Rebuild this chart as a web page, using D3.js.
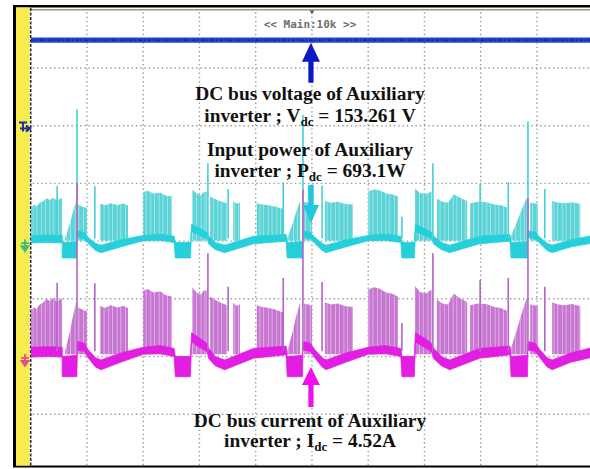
<!DOCTYPE html>
<html>
<head>
<meta charset="utf-8">
<script src="https://cdn.jsdelivr.net/npm/d3@7"></script>
<style>
  html, body { margin: 0; padding: 0; background: #fff; }
  svg { display: block; }
</style>
</head>
<body>
<svg id="scope" width="590" height="469"></svg>
<script>
// ---- Measured quantities ----
const vdc = 153.261;     // DC bus voltage (V)
const pdcMean = 693.1;   // input power readout (W)
const idcMean = 4.52;    // DC bus current readout (A)
const vdcRipple = 4.5;   // half-width of the voltage trace (V)

// Channel settings: units per division and ground-marker position (divisions from centre)
const chVolt = { perDiv: 100, offsetDiv: 1.95 };
const chPower = { perDiv: 2000, offsetDiv: -0.07 };
const chCurrent = { perDiv: 10, offsetDiv: -2.06 };

// Graticule
const timeDivs = [1, 2, 3, 4, 5, 6, 7, 8, 9];
const levelDivs = [3, 2, 1, 0, -1, -2, -3];

// DC bus current ripple band: [time (div), low (A), high (A)]
const currentBand = [
  [0.00, 0.5, 2.2], [0.30, 0.6, 2.3], [0.56, 0.5, 2.2],
  [0.56, -2.9, 0.6], [0.82, -2.9, 0.8],
  [0.83, 1.7, 3.2], [0.95, 1.5, 2.9], [1.02, 0.4, 1.8], [1.15, -1.2, 0.4], [1.25, -1.7, 0.0],
  [1.60, -0.4, 1.2], [2.00, 1.0, 2.2], [2.30, 1.1, 2.5], [2.55, 0.6, 2.0],
  [2.57, -2.9, 0.6], [2.84, -2.9, 0.6],
  [2.86, 3.1, 4.7], [3.00, 2.2, 3.8], [3.14, 1.4, 2.8],
  [3.16, 0.3, 2.1], [3.28, -1.0, 0.6], [3.45, -1.7, 0.0], [3.96, 0.3, 2.0], [4.54, 0.9, 2.4],
  [4.56, -2.9, 0.6], [4.83, -2.9, 0.8],
  [4.84, 1.7, 3.2], [4.97, 1.5, 2.9], [5.05, 0.4, 1.8], [5.18, -1.2, 0.4], [5.25, -1.7, 0.0],
  [5.60, -0.4, 1.2], [6.00, 1.0, 2.2], [6.30, 1.1, 2.5], [6.58, 0.6, 2.0],
  [6.60, -2.9, 0.6], [6.82, -2.9, 0.6],
  [6.84, 3.1, 4.7], [7.00, 2.2, 3.8], [7.13, 1.4, 2.8],
  [7.16, 0.3, 2.1], [7.30, -1.0, 0.6], [7.45, -1.7, 0.0], [7.98, 0.3, 2.0], [8.52, 0.9, 2.4],
  [8.54, -2.9, 0.6], [8.83, -2.9, 0.8],
  [8.84, 1.7, 3.2], [8.97, 1.5, 2.9], [9.05, 0.4, 1.8], [9.18, -1.2, 0.4], [9.27, -1.7, 0.0],
  [9.60, -0.4, 1.2], [10.0, 0.5, 2.2]
];

// Switching bursts: outline of pulse peaks, [time (div), peak (A)]
const currentBursts = [
  [[0.00, 8.5], [0.06, 9.2], [0.10, 8.8], [0.16, 9.6], [0.22, 9.9], [0.28, 10.6], [0.34, 10.2], [0.40, 10.8], [0.46, 10.1], [0.56, 10.7]],
  [[0.61, 1.5], [0.70, 5.0], [0.76, 8.0], [0.82, 10.4]],
  [[0.84, 9.2], [0.92, 8.7], [1.00, 8.4]],
  [[1.23, 9.4], [1.32, 9.0], [1.42, 9.5], [1.55, 9.1], [1.64, 9.4], [1.73, 9.0]],
  [[2.00, 12.0], [2.08, 12.3], [2.18, 11.7], [2.30, 11.9], [2.40, 11.2], [2.51, 11.0]],
  [[2.87, 12.6], [2.94, 11.8], [3.02, 11.3], [3.08, 12.1], [3.13, 12.0]],
  [[3.19, 11.0], [3.27, 10.5], [3.36, 10.0], [3.49, 9.5]],
  [[3.60, 9.9], [3.66, 9.4], [3.72, 9.6]],
  [[4.02, 9.5], [4.12, 9.2], [4.24, 9.0], [4.36, 8.7], [4.49, 8.2]],
  [[4.56, 1.5], [4.66, 5.0], [4.72, 7.6], [4.79, 10.0]],
  [[4.86, 9.8], [4.93, 9.6], [5.00, 9.4]],
  [[5.23, 10.0], [5.34, 9.6], [5.46, 9.8], [5.60, 9.3], [5.73, 9.2]],
  [[6.00, 12.2], [6.10, 12.6], [6.20, 12.4], [6.32, 11.7], [6.42, 11.5], [6.53, 11.0]],
  [[6.83, 12.8], [6.92, 11.8], [7.02, 11.5], [7.13, 12.2]],
  [[7.22, 10.5], [7.32, 9.8], [7.42, 9.6], [7.52, 11.5], [7.62, 10.8], [7.76, 10.0]],
  [[7.81, 9.5], [7.95, 9.8], [8.10, 9.7], [8.24, 9.2], [8.36, 9.0], [8.47, 8.5]],
  [[8.52, 1.5], [8.62, 4.5], [8.72, 7.8], [8.82, 10.8]],
  [[8.88, 9.6], [8.95, 9.5], [9.02, 9.3]],
  [[9.27, 10.0], [9.38, 9.6], [9.50, 9.5], [9.62, 9.7], [9.77, 9.3]]
];

// Isolated tall pulses and switching spikes: [time (div), peak (A)]
const currentSpikes = [
  [0.47, 13.4], [0.823, 30.7], [1.14, 13.3], [3.15, 18.5], [3.51, 12.7],
  [4.49, 14.2], [4.84, 29.5], [5.18, 13.5], [6.60, 6.4], [7.15, 18.5],
  [7.99, 13.9], [8.49, 14.2], [8.84, 28.0], [9.14, 12.7]
];

// ---- Scales ----
const x = d3.scaleLinear().domain([0, 10]).range([30.7, 593.2]);
const y = d3.scaleLinear().domain([4, -4]).range([10.3, 471.9]);
const chY = ch => v => y(ch.offsetDiv + v / ch.perDiv);
const yV = chY(chVolt), yP = chY(chPower), yI = chY(chCurrent);
const toPower = a => a * vdc;

const svg = d3.select("#scope");
const defs = svg.append("defs");

// Pulse texture for switching bursts: dense stripes with narrow, uneven gaps
function pulsePattern(id, ink, gap) {
  const p = defs.append("pattern").attr("id", id).attr("patternUnits", "userSpaceOnUse")
    .attr("width", 8.4).attr("height", 10);
  p.append("rect").attr("width", 8.4).attr("height", 10).attr("fill", gap);
  p.append("rect").attr("x", 0).attr("width", 3.0).attr("height", 10).attr("fill", ink);
  p.append("rect").attr("x", 3.6).attr("width", 4.2).attr("height", 10).attr("fill", ink);
}
pulsePattern("pulseCyan", "#5cd4d7", "#c4f0f1");
pulsePattern("pulseMag", "#c777d2", "#ebcdef");

defs.append("clipPath").attr("id", "plotClip")
  .append("rect").attr("x", 31).attr("y", 10.5).attr("width", 559).attr("height", 454.5);

// ---- Frame ----
svg.append("rect").attr("x", 13).attr("y", 5).attr("width", 577).attr("height", 462.5).attr("fill", "#000");
svg.append("rect").attr("x", 16).attr("y", 7.5).attr("width", 574).attr("height", 458).attr("fill", "#fff");
svg.append("rect").attr("x", 16).attr("y", 7.5).attr("width", 13.5).attr("height", 458).attr("fill", "#f6ec4e");

// ---- Graticule ----
const grid = svg.append("g");
grid.selectAll("line.v").data(timeDivs).join("line")
  .attr("x1", d => x(d)).attr("x2", d => x(d)).attr("y1", y(4) + 2).attr("y2", 465)
  .attr("stroke", "#9a9a9a").attr("stroke-width", 1.4).attr("stroke-dasharray", "1.4,2.9");
grid.selectAll("line.h").data(levelDivs).join("line")
  .attr("y1", d => y(d)).attr("y2", d => y(d)).attr("x1", x(0) + 2).attr("x2", 590)
  .attr("stroke", "#9a9a9a").attr("stroke-width", 1.4).attr("stroke-dasharray", "1.4,2.9");
// top edge of the graticule and the dashed left edge
grid.append("line").attr("x1", x(0)).attr("x2", 590).attr("y1", 9.8).attr("y2", 9.8)
  .attr("stroke", "#9c9c6a").attr("stroke-width", 1.4);
grid.append("line").attr("x1", x(0)).attr("x2", x(0)).attr("y1", 8).attr("y2", 465.5)
  .attr("stroke", "#2a2a2a").attr("stroke-width", 1.6).attr("stroke-dasharray", "3,1.5");
// trigger position marker
grid.append("path").attr("d", `M${x(5) - 2.5},10.5 L${x(5) + 2.5},10.5 L${x(5)},14 Z`).attr("fill", "#555");

svg.append("text").attr("x", 310).attr("y", 27.5).attr("text-anchor", "middle")
  .attr("font-family", "DejaVu Sans Mono").attr("font-size", 11).attr("font-weight", "bold")
  .attr("fill", "#6e6e6e").text("<< Main:10k >>");

// ---- Traces ----
const traces = svg.append("g").attr("clip-path", "url(#plotClip)");

function drawPulsed(g, yFn, conv, burstFill, bandColor, spikeColor) {
  const burstArea = d3.area().x(d => x(d[0])).y0(yFn(conv(1.0))).y1(d => yFn(conv(d[1])));
  g.selectAll(null).data(currentBursts).join("path")
    .attr("d", burstArea).attr("fill", burstFill);
  const band = d3.area().x(d => x(d[0])).y0(d => yFn(conv(d[1]))).y1(d => yFn(conv(d[2])));
  g.append("path").datum(currentBand).attr("d", band).attr("fill", bandColor)
    .attr("stroke", bandColor).attr("stroke-width", 0.8);
  g.selectAll(null).data(currentSpikes).join("line")
    .attr("x1", d => x(d[0])).attr("x2", d => x(d[0]))
    .attr("y1", yFn(conv(1.5))).attr("y2", d => yFn(conv(d[1])))
    .attr("stroke", spikeColor).attr("stroke-width", 1.6);
}

// CH2: input power (cyan)
drawPulsed(traces.append("g"), yP, toPower, "url(#pulseCyan)", "#26d0da", "#45cfd8");
// CH3: DC bus current (magenta)
drawPulsed(traces.append("g"), yI, a => a, "url(#pulseMag)", "#e21ee2", "#b464c8");

// CH1: DC bus voltage (blue)
traces.append("path").datum([0, 10])
  .attr("d", d3.area().x(d => x(d)).y0(yV(vdc - vdcRipple)).y1(yV(vdc + vdcRipple)))
  .attr("fill", "#2443cc");
traces.append("line").attr("x1", x(0)).attr("x2", 590).attr("y1", yV(vdc)).attr("y2", yV(vdc))
  .attr("stroke", "#14249e").attr("stroke-width", 1.6).attr("stroke-dasharray", "3,2,1,3");

// ---- Channel markers ----
const mk = svg.append("g");
const m1 = yV(0), m2 = yP(0), m3 = yI(0);
mk.append("path").attr("d", `M19,${m1 - 6} L27,${m1 - 6} M23,${m1 - 6} L23,${m1 + 3} M20,${m1} L30,${m1} M26,${m1 - 3} L30,${m1} L26,${m1 + 3}`)
  .attr("stroke", "#1a2fa8").attr("stroke-width", 2).attr("fill", "none");
mk.append("path").attr("d", `M21,${m2 - 2} L29,${m2 - 2} M25,${m2 - 6} L25,${m2 + 2} M21.5,${m2 + 1} L25,${m2 + 6} L28.5,${m2 + 1} Z`)
  .attr("stroke", "#3cbf7a").attr("stroke-width", 1.8).attr("fill", "#3cbf7a");
mk.append("path").attr("d", `M21,${m3 - 2} L29,${m3 - 2} M25,${m3 - 6} L25,${m3 + 2} M21.5,${m3 + 1} L25,${m3 + 6} L28.5,${m3 + 1} Z`)
  .attr("stroke", "#e0508a").attr("stroke-width", 1.8).attr("fill", "#e0508a");

// ---- Annotations ----
function arrowPath(cx, tip, dir, headLen, headHalf, shaftLen, shaftHalf) {
  const b = tip - dir * headLen, e = b - dir * shaftLen;
  return `M${cx},${tip} L${cx + headHalf},${b} L${cx + shaftHalf},${b} L${cx + shaftHalf},${e} ` +
         `L${cx - shaftHalf},${e} L${cx - shaftHalf},${b} L${cx - headHalf},${b} Z`;
}
const ax = x(5) - 1;
svg.append("path").attr("d", arrowPath(ax, yV(vdc - vdcRipple), -1, 19, 9, 21, 2.6)).attr("fill", "#0c18c4");
svg.append("path").attr("d", arrowPath(ax, 223, 1, 18, 8, 20, 2.8)).attr("fill", "#24c6de");
svg.append("path").attr("d", arrowPath(ax, 367, -1, 18, 9, 22, 2.6)).attr("fill", "#f010ee");

const notes = [
  { y: 100, parts: [["DC bus voltage of Auxiliary"]] },
  { y: 122, parts: [["inverter ; V"], ["dc", true], [` = ${vdc} V`]] },
  { y: 156, parts: [["Input power of Auxiliary"]] },
  { y: 177, parts: [["inverter ; P"], ["dc", true], [` = ${pdcMean}W`]] },
  { y: 427, parts: [["DC bus current of Auxiliary"]] },
  { y: 447, parts: [["inverter ; I"], ["dc", true], [` = ${idcMean}A`]] }
];
const txt = svg.selectAll("text.note").data(notes).join("text").attr("class", "note")
  .attr("x", 310).attr("y", d => d.y).attr("text-anchor", "middle")
  .attr("font-family", "Liberation Serif, Times New Roman, serif").attr("font-weight", "bold")
  .attr("font-size", 19.4).attr("fill", "#111");
txt.each(function(d) {
  const t = d3.select(this);
  let shifted = false;
  d.parts.forEach(([s, sub]) => {
    const ts = t.append("tspan").text(s);
    if (sub) { ts.attr("font-size", 13).attr("dy", 4); shifted = true; }
    else if (shifted) { ts.attr("dy", -4); shifted = false; }
  });
});
</script>
</body>
</html>
